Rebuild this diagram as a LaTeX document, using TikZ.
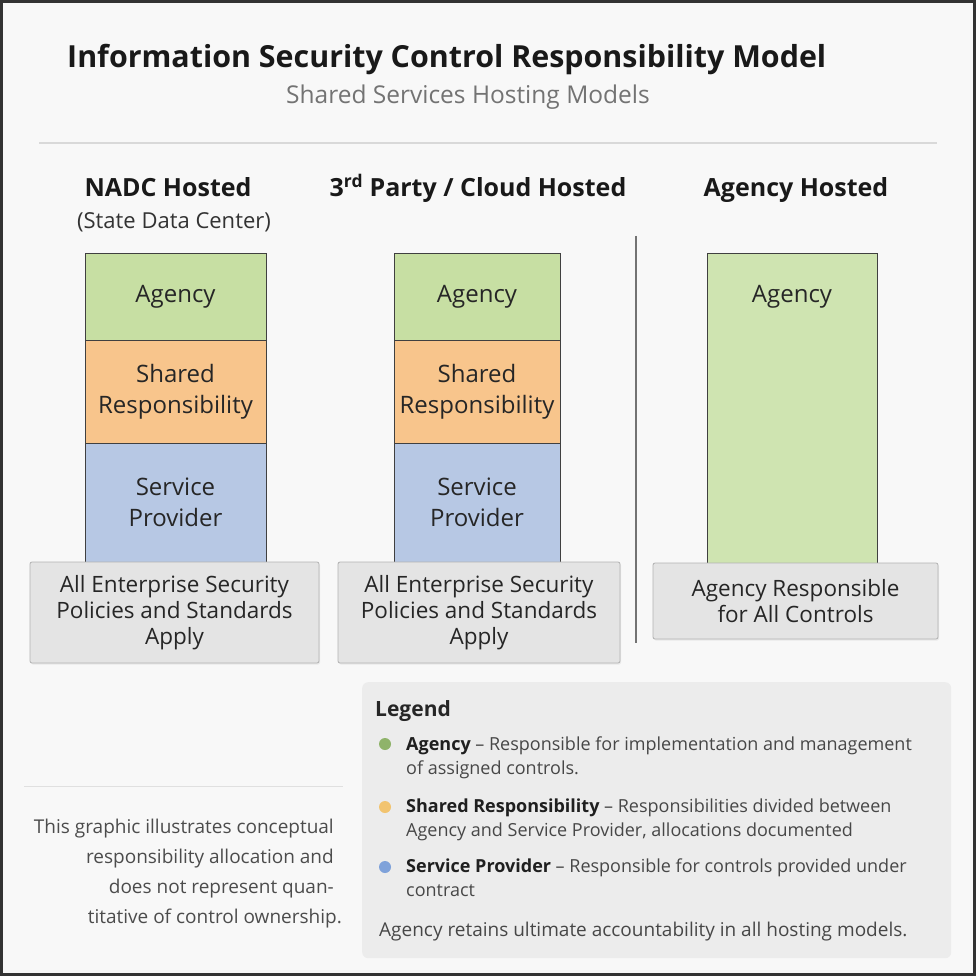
\documentclass[tikz,border=0pt]{standalone}
\usepackage{fontspec}
\setmainfont{Open Sans}
\usetikzlibrary{shadows}
\definecolor{agencygreen}{HTML}{C7DFA3}
\definecolor{sharedorange}{HTML}{F8C58C}
\definecolor{providerblue}{HTML}{B7C8E4}
\definecolor{footgray}{HTML}{E4E4E4}
\definecolor{legendgray}{HTML}{ECECEC}
\definecolor{pagegray}{HTML}{F8F8F8}
\definecolor{dotgreen}{HTML}{8FB36A}
\definecolor{dotorange}{HTML}{F2C470}
\definecolor{dotblue}{HTML}{7FA2DA}
\newcommand{\fs}[2]{\fontsize{#1}{#2}\selectfont}

\begin{document}
\begin{tikzpicture}[x=1pt, y=-1pt,
  tier/.style={draw=black!75, line width=1pt, rectangle, anchor=north west, outer sep=0pt, inner sep=0pt, align=center, text=black!85, font=\fs{24}{31}},
  foot/.style={draw=black!30, fill=footgray, line width=0.8pt, rounded corners=2pt, anchor=north west, outer sep=0pt, inner sep=0pt, align=center, text=black!85, font=\fs{22.5}{26}, drop shadow={opacity=0.12, shadow xshift=1pt, shadow yshift=-1.5pt}},
  head/.style={anchor=base, inner sep=0pt, font=\bfseries\fs{25}{30}, text=black!90},
  dot/.style={circle, inner sep=0pt, minimum size=12pt},
  legtext/.style={anchor=base west, align=left, inner sep=0pt, font=\fs{18}{24}, text=black!72}]
    \useasboundingbox (0,0) rectangle (976,976);
    \fill[pagegray] (0,0) rectangle (976,976);
    \draw[black!80, line width=3pt] (1.5,1.5) rectangle (974.5,974.5);

    % Title
    \node[anchor=base west, inner sep=0pt, font=\bfseries\fs{30.4}{36}, text=black!90] (title) at (67,68) {Information Security Control Responsibility Model};
    \node[anchor=base, inner sep=0pt, font=\fs{24.5}{28}, text=black!55] (subtitle) at (468,104) {Shared Services Hosting Models};
    \draw[black!15, line width=1.2pt] (39,143) -- (937,143);

    % Column headers
    \node[head] (head-1) at (168,197) {NADC Hosted};
    \node[anchor=base, inner sep=0pt, font=\fs{22}{26}, text=black!80] (head-1-sub) at (174,229) {(State Data Center)};
    \node[head] (head-2) at (478,197) {3\textsuperscript{rd} Party / Cloud Hosted};
    \node[head] (head-3) at (796,197) {Agency Hosted};
    \draw[black!55, line width=1.2pt] (636,236) -- (636,643);

    % First column
    \node[tier, fill=agencygreen, minimum width=181pt, minimum height=87pt] (agency-1) at (85,253) {Agency};
    \node[tier, fill=sharedorange, minimum width=181pt, minimum height=103pt] (shared-1) at (agency-1.south west) {Shared\\Responsibility};
    \node[tier, fill=providerblue, minimum width=181pt, minimum height=119pt] (provider-1) at (shared-1.south west) {Service\\Provider};
    \node[foot, minimum width=289pt, minimum height=101pt] (policy-1) at (30,562) {All Enterprise Security\\Policies and Standards\\Apply};

    % Second column
    \node[tier, fill=agencygreen, minimum width=166pt, minimum height=87pt] (agency-2) at (394,253) {Agency};
    \node[tier, fill=sharedorange, minimum width=166pt, minimum height=103pt] (shared-2) at (agency-2.south west) {Shared\\Responsibility};
    \node[tier, fill=providerblue, minimum width=166pt, minimum height=119pt] (provider-2) at (shared-2.south west) {Service\\Provider};
    \node[foot, minimum width=282pt, minimum height=101pt] (policy-2) at (338,562) {All Enterprise Security\\Policies and Standards\\Apply};

    % Third column
    \node[tier, fill=agencygreen!85!white, minimum width=170pt, minimum height=310pt] (agency-3) at (707,253) {};
    \node[inner sep=0pt, font=\fs{24}{31}, text=black!85] (agency-3-label) at (792,297) {Agency};
    \node[foot, minimum width=285pt, minimum height=76pt] (policy-3) at (653,563) {Agency Responsible\\for All Controls};

    % Legend
    \node[fill=legendgray, rounded corners=6pt, anchor=north west, inner sep=0pt, minimum width=589pt, minimum height=276pt] (legend) at (362,682) {};
    \node[anchor=base west, inner sep=0pt, font=\bfseries\fs{21}{26}, text=black!85] (legend-title) at (375,716) {Legend};
    \node[dot, fill=dotgreen] (dot-agency) at (385,744) {};
    \node[legtext] (leg-agency) at (406,774) {\textbf{\color{black!88}Agency} -- Responsible for implementation and management\\of assigned controls.};
    \node[dot, fill=dotorange] (dot-shared) at (385,807) {};
    \node[legtext] (leg-shared) at (406,836) {\textbf{\color{black!88}Shared Responsibility} -- Responsibilities divided between\\Agency and Service Provider, allocations documented};
    \node[dot, fill=dotblue] (dot-provider) at (385,867) {};
    \node[legtext] (leg-provider) at (406,896) {\textbf{\color{black!88}Service Provider} -- Responsible for controls provided under\\contract};
    \node[legtext, font=\fs{19}{24}] (leg-note) at (379,936) {Agency retains ultimate accountability in all hosting models.};

    % Disclaimer
    \draw[black!12, line width=1pt] (24,786) -- (343,786);
    \node[anchor=base east, align=right, inner sep=0pt, font=\fs{19}{30}, text=black!70] (disclaimer) at (334,923) {This graphic illustrates conceptual\\responsibility allocation and\\does not represent quan-\\titative of control ownership.\hspace*{-8pt}};
\end{tikzpicture}
\end{document}
